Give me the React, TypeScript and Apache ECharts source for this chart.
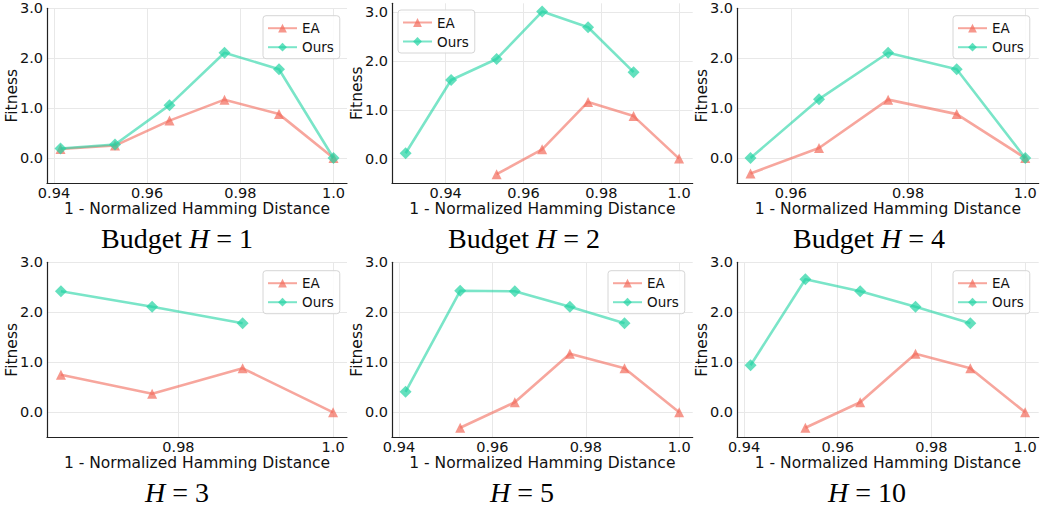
import React, { useEffect, useRef } from "react";
import * as echarts from "echarts";

// ---------- data ----------
const xSix = [0.9414, 0.9531, 0.9648, 0.9766, 0.9883, 1.0];
const xFiveTail = [0.9531, 0.9648, 0.9766, 0.9883, 1.0];
const xFiveHead = [0.9414, 0.9531, 0.9648, 0.9766, 0.9883];
const xSixHead = [0.9297, 0.9414, 0.9531, 0.9648, 0.9766, 0.9883];
const xFourTail = [0.9648, 0.9766, 0.9883, 1.0];
const xThreeMid = [0.9648, 0.9766, 0.9883];

// Budget H = 1
const h1Ea = [0.18, 0.25, 0.75, 1.17, 0.88, 0.0];
const h1Ours = [0.19, 0.27, 1.06, 2.11, 1.78, 0.0];
// Budget H = 2
const h2Ea = [-0.32, 0.19, 1.16, 0.87, 0.0];
const h2Ours = [0.11, 1.61, 2.04, 3.01, 2.69, 1.77];
// Budget H = 4
const h4Ea = [-0.31, 0.2, 1.17, 0.88, 0.0];
const h4Ours = [0.0, 1.18, 2.11, 1.78, 0.0];
// H = 3
const h3Ea = [0.75, 0.37, 0.88, 0.0];
const h3Ours = [2.42, 2.11, 1.78];
// H = 5
const h5Ea = [-0.31, 0.2, 1.17, 0.88, 0.0];
const h5Ours = [0.41, 2.43, 2.42, 2.11, 1.78];
// H = 10
const h10Ea = [-0.31, 0.2, 1.17, 0.88, 0.0];
const h10Ours = [0.94, 2.66, 2.42, 2.11, 1.78];

const ticksWide = [0.94, 0.96, 0.98, 1.0];
const ticksMid = [0.96, 0.98, 1.0];
const ticksNarrow = [0.98, 1.0];
const yTicks = [0, 1, 2, 3];

const seriesNames = ["EA", "Ours"];

// ---------- styling ----------
const EA_COLOR = "#f26b5b";
const OURS_COLOR = "#22d3a3";
const SANS = "DejaVu Sans";
const SERIF = "Liberation Serif";

type Panel = {
  pre: string;
  num: string;
  eaX: number[];
  eaY: number[];
  oursX: number[];
  oursY: number[];
  xMin: number;
  xMax: number;
  yMax: number;
  xTicks: number[];
  left: number;
  top: number;
  width: number;
  height: number;
  legendLeft: number;
  legendTop: number;
  capX: number;
  capY: number;
};

const panels: Panel[] = [
  { pre: "Budget ", num: "1", eaX: xSix, eaY: h1Ea, oursX: xSix, oursY: h1Ours, xMin: 0.9385, xMax: 1.0029, yMax: 3.0, xTicks: ticksWide, left: 47, top: 8.3, width: 300, height: 174.7, legendLeft: 263, legendTop: 15.7, capX: 177, capY: 223 },
  { pre: "Budget ", num: "2", eaX: xFiveTail, eaY: h2Ea, oursX: xSixHead, oursY: h2Ours, xMin: 0.9262, xMax: 1.0035, yMax: 3.18, xTicks: ticksWide, left: 392, top: 3.3, width: 300.7, height: 179.7, legendLeft: 398, legendTop: 10, capX: 524, capY: 223 },
  { pre: "Budget ", num: "4", eaX: xFiveTail, eaY: h4Ea, oursX: xFiveTail, oursY: h4Ours, xMin: 0.9508, xMax: 1.0023, yMax: 3.0, xTicks: ticksMid, left: 737, top: 8.3, width: 301.7, height: 174.7, legendLeft: 953, legendTop: 15.7, capX: 869, capY: 223 },
  { pre: "", num: "3", eaX: xFourTail, eaY: h3Ea, oursX: xThreeMid, oursY: h3Ours, xMin: 0.9630, xMax: 1.0018, yMax: 3.0, xTicks: ticksNarrow, left: 47, top: 262.3, width: 300, height: 175, legendLeft: 263, legendTop: 270.7, capX: 177, capY: 477 },
  { pre: "", num: "5", eaX: xFiveTail, eaY: h5Ea, oursX: xFiveHead, oursY: h5Ours, xMin: 0.9385, xMax: 1.0029, yMax: 3.0, xTicks: ticksWide, left: 392, top: 262.3, width: 300.7, height: 175, legendLeft: 608, legendTop: 270.7, capX: 522, capY: 477 },
  { pre: "", num: "10", eaX: xFiveTail, eaY: h10Ea, oursX: xFiveHead, oursY: h10Ours, xMin: 0.9385, xMax: 1.0029, yMax: 3.0, xTicks: ticksWide, left: 737, top: 262.3, width: 301.7, height: 175, legendLeft: 953, legendTop: 270.7, capX: 867, capY: 477 },
];

function pair(xs: number[], ys: number[]) {
  return xs.map((x, i) => [x, ys[i]]);
}

function buildOption() {
  const grid = panels.map((p) => ({ left: p.left, top: p.top, width: p.width, height: p.height, containLabel: false }));
  const xAxis = panels.map((p, i) => ({
    type: "value",
    gridIndex: i,
    min: p.xMin,
    max: p.xMax,
    name: "1 - Normalized Hamming Distance",
    nameLocation: "middle",
    nameGap: 18,
    nameMoveOverlap: false,
    nameTextStyle: { fontFamily: SANS, fontSize: 15.5, color: "#111", verticalAlign: "top", lineHeight: 16 },
    axisLine: { show: true, onZero: false, lineStyle: { color: "#222", width: 1.2 } },
    axisTick: { show: false, customValues: p.xTicks },
    axisLabel: {
      customValues: p.xTicks,
      margin: 3,
      lineHeight: 14,
      fontFamily: SANS,
      fontSize: 14.5,
      color: "#111",
      formatter: (v: number) => (Math.abs(v - 1) < 1e-9 ? "1.0" : v.toFixed(2)),
    },
    splitLine: { show: true, lineStyle: { color: "#e8e8e8", width: 1 } },
  }));
  const yAxis = panels.map((p, i) => ({
    type: "value",
    gridIndex: i,
    min: -0.5,
    max: p.yMax,
    name: "Fitness",
    nameLocation: "middle",
    nameGap: 27,
    nameMoveOverlap: false,
    nameTextStyle: { fontFamily: SANS, fontSize: 15.5, color: "#111" },
    axisLine: { show: true, lineStyle: { color: "#222", width: 1.2 } },
    axisTick: { show: false, customValues: yTicks },
    axisLabel: {
      customValues: yTicks,
      margin: 4,
      fontFamily: SANS,
      fontSize: 14.5,
      color: "#111",
      formatter: (v: number) => v.toFixed(1),
    },
    splitLine: { show: true, lineStyle: { color: "#e8e8e8", width: 1 } },
  }));
  const series: any[] = [];
  panels.forEach((p, i) => {
    series.push({
      type: "line",
      name: seriesNames[0],
      xAxisIndex: i,
      yAxisIndex: i,
      data: pair(p.eaX, p.eaY),
      symbol: "triangle",
      symbolSize: 10,
      silent: true,
      lineStyle: { color: EA_COLOR, width: 2.6, opacity: 0.6 },
      itemStyle: { color: EA_COLOR, opacity: 0.7 },
      z: 2,
    });
    series.push({
      type: "line",
      name: seriesNames[1],
      xAxisIndex: i,
      yAxisIndex: i,
      data: pair(p.oursX, p.oursY),
      symbol: "diamond",
      symbolSize: 12,
      silent: true,
      lineStyle: { color: OURS_COLOR, width: 2.6, opacity: 0.6 },
      itemStyle: { color: OURS_COLOR, opacity: 0.7 },
      z: 3,
    });
  });
  const legend = panels.map((p) => ({
    data: seriesNames,
    orient: "vertical",
    left: p.legendLeft,
    top: p.legendTop,
    padding: [5, 6, 4, 4],
    itemWidth: 29,
    itemHeight: 11,
    itemGap: 4,
    selectedMode: false,
    backgroundColor: "rgba(255,255,255,0.85)",
    borderColor: "#d6d6d6",
    borderWidth: 1,
    borderRadius: 3,
    textStyle: { fontFamily: SANS, fontSize: 13.5, color: "#111", lineHeight: 15 },
  }));
  const title = panels.map((p) => ({
    text: p.pre ? `{a|${p.pre}}{b|H}{a| = ${p.num}}` : `{b|H}{a| = ${p.num}}`,
    left: p.capX,
    top: p.capY,
    textAlign: "center",
    padding: 0,
    textStyle: {
      fontWeight: "normal",
      rich: {
        a: { fontFamily: SERIF, fontSize: 28, fontWeight: "normal", color: "#000", lineHeight: 30 },
        b: { fontFamily: SERIF, fontSize: 28, fontStyle: "italic", fontWeight: "normal", color: "#000", lineHeight: 30 },
      },
    },
  }));
  return { animation: false, backgroundColor: "#fff", grid, xAxis, yAxis, series, legend, title };
}

export default function App() {
  const ref = useRef<HTMLDivElement>(null);
  useEffect(() => {
    if (!ref.current) return;
    const chart = echarts.init(ref.current, undefined, { renderer: "svg" });
    chart.setOption(buildOption() as any);
    return () => chart.dispose();
  }, []);
  return <div ref={ref} style={{ position: "fixed", left: 0, top: 0, width: 1041, height: 506, background: "#fff" }} />;
}
